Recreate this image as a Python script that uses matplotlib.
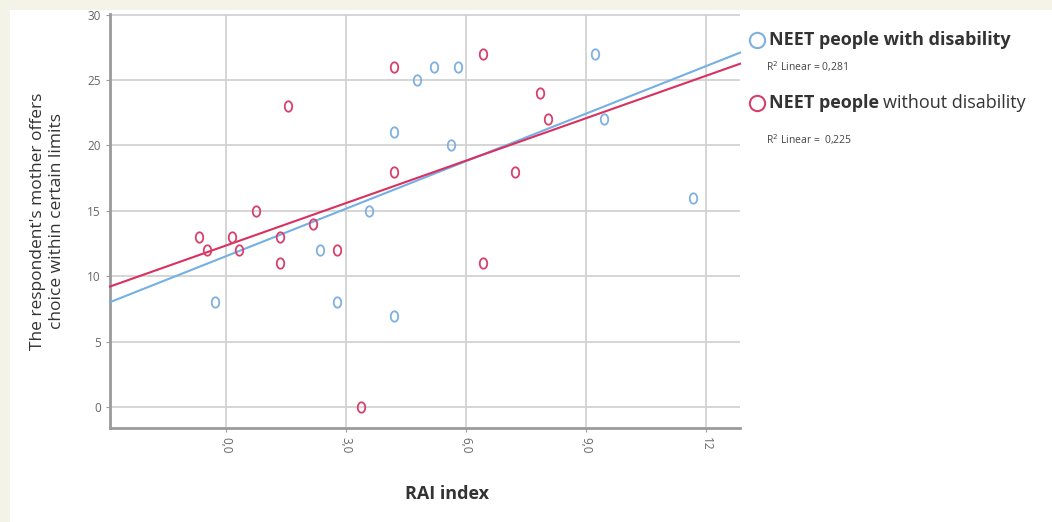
import numpy as np
import matplotlib.pyplot as plt
from matplotlib.lines import Line2D
from matplotlib.patches import Rectangle

plt.rcParams['font.family'] = ['Open Sans', 'DejaVu Sans']

# RAI index / score for NEET people with disability
x_dis = [-0.28, 2.35, 2.78, 3.58, 4.2, 4.2, 4.78, 5.2, 5.63, 5.8, 9.23, 9.45, 11.68]
y_dis = [8, 12, 8, 15, 7, 21, 25, 26, 20, 26, 27, 22, 16]

# NEET people without disability
x_nodis = [-0.68, -0.48, 0.15, 0.33, 0.75, 1.35, 1.35, 1.55, 2.18, 2.78,
           3.38, 4.2, 4.2, 6.43, 6.43, 7.23, 7.85, 8.05]
y_nodis = [13, 12, 13, 12, 15, 13, 11, 23, 14, 12,
           0, 26, 18, 27, 11, 18, 24, 22]

x_ticks = [0, 3, 6, 9, 12]
x_ticklabels = ["0,0", "3,0", "6,0", "9,0", "12"]
y_ticks = [0, 5, 10, 15, 20, 25, 30]

c_blue = "#7fb0e0"
c_red = "#d8406b"
c_blue_line = "#74b0e4"
c_red_line = "#d9305f"

W, H = 1052, 522
fig = plt.figure(figsize=(W / 100, H / 100), dpi=100, facecolor="#f3f3e7")
fig.add_artist(Rectangle((10 / W, 0), 1, 1 - 10 / H, transform=fig.transFigure,
                         facecolor="white", edgecolor="none", zorder=0))

ax = fig.add_axes([110 / W, (H - 428) / H, 630 / W, (428 - 14) / H])
ax.set_facecolor("white")
xmin, xmax = -2.9, 12.85
ax.set_xlim(xmin, xmax)
ax.set_ylim(-1.6, 30.05)

# fit lines
xs = np.array([xmin, xmax])
for xd, yd, col in [(x_dis, y_dis, c_blue_line), (x_nodis, y_nodis, c_red_line)]:
    coef = np.polyfit(xd, yd, 1)
    ax.plot(xs, np.polyval(coef, xs), color=col, lw=1.5, zorder=3, clip_on=False)

# ellipse marker, slightly taller than wide
t = np.linspace(0, 2 * np.pi, 40)
ell = np.column_stack([0.72 * np.cos(t), np.sin(t)])

ax.plot(x_dis, y_dis, ls="none", marker=ell, ms=7.5, mfc="none", mec=c_blue,
        mew=1.3, zorder=4)
ax.plot(x_nodis, y_nodis, ls="none", marker=ell, ms=7.5, mfc="none", mec=c_red,
        mew=1.3, zorder=4)

ax.set_xticks(x_ticks)
ax.set_xticklabels(x_ticklabels, rotation=-90)
ax.set_yticks(y_ticks)
ax.grid(True, color="#d2d2d2", lw=1.3)
ax.set_axisbelow(True)
for s in ["top", "right"]:
    ax.spines[s].set_visible(False)
for s in ["left", "bottom"]:
    ax.spines[s].set_color("#9a9a9a")
    ax.spines[s].set_linewidth(2)
ax.tick_params(axis="both", colors="#9a9a9a", labelcolor="#666666",
               labelsize=8.5, length=3)

ax.set_ylabel("The respondent's mother offers\nchoice within certain limits",
              fontsize=12.5, color="#333333", labelpad=16, linespacing=1.25)
fig.text(447 / W, 1 - 494 / H, "RAI index", fontsize=13, fontweight="bold",
         color="#333333", ha="center", va="center")

# legend drawn by hand on the right
fig.add_artist(Line2D([757 / W], [1 - 40 / H], transform=fig.transFigure,
                      marker="o", ms=11, mfc="none", mec=c_blue, mew=1.5))
fig.text(769 / W, 1 - 40 / H, "NEET people with disability", fontsize=13,
         fontweight="bold", color="#333333", va="center")
fig.text(766 / W, 1 - 67 / H, "R$^2$ Linear = 0,281", fontsize=7.5,
         color="#444444", va="center")
fig.add_artist(Line2D([757 / W], [1 - 103 / H], transform=fig.transFigure,
                      marker="o", ms=11, mfc="none", mec=c_red, mew=1.5))
tt = fig.text(769 / W, 1 - 103 / H, "NEET people", fontsize=13,
              fontweight="bold", color="#333333", va="center")
fig.canvas.draw()
bb = tt.get_window_extent()
fig.text(bb.x1 / W + 4 / W, 1 - 103 / H, "without disability", fontsize=13,
         color="#333333", va="center")
fig.text(766 / W, 1 - 140 / H, "R$^2$ Linear =  0,225", fontsize=7.5,
         color="#444444", va="center")

fig.savefig("out.png", dpi=100, facecolor=fig.get_facecolor())
